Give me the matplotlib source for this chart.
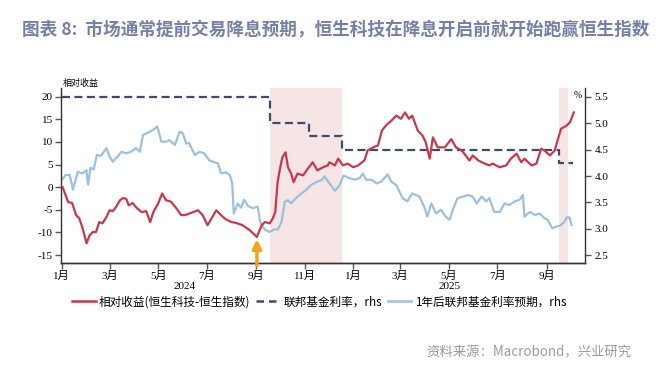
import numpy as np
import pandas as pd
import matplotlib
matplotlib.use('Agg')
import matplotlib.pyplot as plt
import matplotlib.dates as mdates
from matplotlib.lines import Line2D

plt.rcParams['font.family'] = ['Noto Sans CJK SC', 'DejaVu Sans']
plt.rcParams['axes.unicode_minus'] = False

# 相对收益 (恒生科技 - 恒生指数), lhs
rel_dates = ['2024-01-02', '2024-01-09', '2024-01-14', '2024-01-19', '2024-01-23', '2024-01-27',
             '2024-02-01', '2024-02-05', '2024-02-09', '2024-02-13', '2024-02-17', '2024-02-21',
             '2024-02-26', '2024-03-01', '2024-03-05', '2024-03-09', '2024-03-14', '2024-03-18',
             '2024-03-22', '2024-03-25', '2024-03-30', '2024-04-03', '2024-04-10', '2024-04-16',
             '2024-04-21', '2024-04-25', '2024-05-01', '2024-05-06', '2024-05-11', '2024-05-17',
             '2024-05-24', '2024-05-30', '2024-06-05', '2024-06-14', '2024-06-20', '2024-06-26',
             '2024-07-02', '2024-07-08', '2024-07-13', '2024-07-19', '2024-07-25', '2024-08-01',
             '2024-08-07', '2024-08-15', '2024-08-24', '2024-09-02', '2024-09-08', '2024-09-12',
             '2024-09-18', '2024-09-22', '2024-09-25', '2024-09-28', '2024-10-01', '2024-10-04',
             '2024-10-08', '2024-10-11', '2024-10-15', '2024-10-18', '2024-10-23', '2024-10-30',
             '2024-11-05', '2024-11-11', '2024-11-17', '2024-11-24', '2024-11-30', '2024-12-02',
             '2024-12-09', '2024-12-13', '2024-12-19', '2024-12-25', '2025-01-01', '2025-01-07',
             '2025-01-15', '2025-01-19', '2025-01-26', '2025-02-01', '2025-02-06', '2025-02-11',
             '2025-02-18', '2025-02-24', '2025-03-02', '2025-03-07', '2025-03-12', '2025-03-16',
             '2025-03-23', '2025-03-29', '2025-04-02', '2025-04-07', '2025-04-11', '2025-04-17',
             '2025-04-26', '2025-05-04', '2025-05-10', '2025-05-17', '2025-05-19', '2025-05-27',
             '2025-05-31', '2025-06-07', '2025-06-15', '2025-06-21', '2025-06-25', '2025-07-04',
             '2025-07-12', '2025-07-18', '2025-07-25', '2025-07-31', '2025-08-04', '2025-08-13',
             '2025-08-19', '2025-08-25', '2025-08-29', '2025-09-05', '2025-09-11', '2025-09-15',
             '2025-09-19', '2025-09-26', '2025-09-30', '2025-10-05']
rel_values = [0.0, -3.3, -3.5, -6.2, -6.9, -9.0,
              -12.4, -10.6, -9.9, -9.9, -7.7, -8.0,
              -6.6, -5.1, -5.3, -4.4, -2.9, -2.4,
              -2.6, -4.0, -3.5, -4.4, -5.5, -5.3,
              -7.7, -5.5, -3.6, -1.4, -2.9, -3.2,
              -4.7, -6.2, -6.1, -5.5, -5.1, -6.2,
              -8.4, -6.6, -5.1, -6.2, -7.1, -7.7,
              -7.9, -8.4, -9.5, -11.0, -8.4, -7.7,
              -8.0, -6.9, -5.5, 1.1, 4.1, 6.6,
              7.7, 4.4, 3.0, 1.1, 3.0, 2.6,
              4.1, 5.5, 3.7, 4.4, 4.8, 5.5,
              4.8, 6.3, 4.8, 5.2, 4.4, 4.8,
              5.9, 8.1, 8.8, 9.2, 12.5, 13.6,
              14.7, 15.8, 15.1, 16.5, 15.1, 15.8,
              12.5, 11.4, 9.9, 6.3, 11.0, 8.8,
              8.8, 10.6, 8.8, 8.1, 7.7, 5.9,
              7.0, 5.9, 5.2, 4.8, 5.2, 4.4,
              4.8, 6.3, 7.4, 5.5, 6.3, 4.8,
              5.2, 8.5, 8.1, 7.0, 8.1, 10.6,
              12.9, 13.6, 14.3, 16.5]

# 1年后联邦基金利率预期, rhs
exp_dates = ['2024-01-01', '2024-01-06', '2024-01-11', '2024-01-15', '2024-01-21', '2024-01-27',
             '2024-02-01', '2024-02-03', '2024-02-06', '2024-02-10', '2024-02-14', '2024-02-19',
             '2024-02-26', '2024-03-01', '2024-03-05', '2024-03-11', '2024-03-16', '2024-03-22',
             '2024-03-28', '2024-04-03', '2024-04-08', '2024-04-12', '2024-04-18', '2024-04-24',
             '2024-04-30', '2024-05-05', '2024-05-11', '2024-05-15', '2024-05-22', '2024-05-28',
             '2024-06-01', '2024-06-05', '2024-06-09', '2024-06-16', '2024-06-22', '2024-06-28',
             '2024-07-04', '2024-07-09', '2024-07-15', '2024-07-19', '2024-07-25', '2024-07-30',
             '2024-08-02', '2024-08-04', '2024-08-09', '2024-08-13', '2024-08-17', '2024-08-22',
             '2024-08-28', '2024-09-03', '2024-09-06', '2024-09-12', '2024-09-18', '2024-09-24',
             '2024-09-28', '2024-10-03', '2024-10-07', '2024-10-11', '2024-10-15', '2024-10-21',
             '2024-10-28', '2024-11-03', '2024-11-09', '2024-11-16', '2024-11-22', '2024-11-26',
             '2024-12-02', '2024-12-09', '2024-12-15', '2024-12-20', '2024-12-27', '2025-01-03',
             '2025-01-09', '2025-01-13', '2025-01-17', '2025-01-24', '2025-01-30', '2025-02-05',
             '2025-02-09', '2025-02-13', '2025-02-18', '2025-02-24', '2025-03-04', '2025-03-10',
             '2025-03-16', '2025-03-25', '2025-03-31', '2025-04-04', '2025-04-09', '2025-04-15',
             '2025-04-21', '2025-04-27', '2025-05-02', '2025-05-06', '2025-05-12', '2025-05-19',
             '2025-05-25', '2025-05-31', '2025-06-05', '2025-06-11', '2025-06-17', '2025-06-21',
             '2025-06-27', '2025-07-04', '2025-07-10', '2025-07-16', '2025-07-23', '2025-07-29',
             '2025-08-02', '2025-08-04', '2025-08-11', '2025-08-17', '2025-08-23', '2025-08-29',
             '2025-09-02', '2025-09-08', '2025-09-13', '2025-09-18', '2025-09-23', '2025-09-27',
             '2025-09-30', '2025-10-02']
exp_values = [3.93, 4.02, 4.02, 3.74, 4.08, 4.05,
              4.11, 3.84, 4.16, 4.12, 4.40, 4.38,
              4.53, 4.37, 4.27, 4.37, 4.46, 4.43,
              4.46, 4.53, 4.46, 4.78, 4.82, 4.87,
              4.94, 4.65, 4.65, 4.68, 4.59, 4.84,
              4.81, 4.62, 4.62, 4.40, 4.46, 4.43,
              4.30, 4.27, 4.24, 4.05, 4.07, 4.02,
              3.86, 3.29, 3.48, 3.40, 3.55, 3.43,
              3.39, 3.42, 3.13, 2.98, 2.94, 2.99,
              2.98, 3.13, 3.51, 3.54, 3.48, 3.58,
              3.67, 3.74, 3.83, 3.89, 3.92, 3.99,
              3.86, 3.72, 3.83, 4.01, 3.96, 3.93,
              3.96, 4.05, 3.93, 3.93, 3.86, 3.89,
              3.96, 4.03, 3.89, 3.83, 3.58, 3.52,
              3.67, 3.61, 3.42, 3.23, 3.48, 3.29,
              3.36, 3.23, 3.17, 3.36, 3.58, 3.61,
              3.64, 3.61, 3.48, 3.61, 3.52, 3.58,
              3.32, 3.32, 3.48, 3.45, 3.52, 3.55,
              3.64, 3.23, 3.32, 3.26, 3.29, 3.20,
              3.17, 3.01, 3.04, 3.06, 3.13, 3.23,
              3.20, 3.07]

# 联邦基金利率 (steps), rhs
fed_dates = ['2024-01-01', '2024-09-18', '2024-11-07', '2024-12-18', '2025-09-17', '2025-10-04']
fed_values = [5.5, 5.0, 4.75, 4.5, 4.25, 4.25]

# 降息区间
cut_periods = [('2024-09-18', '2024-12-18'), ('2025-09-17', '2025-09-28')]

RED = '#c8374b'
NAVY = '#3d4b68'
BLUE = '#9bc0e0'
SHADE = '#f5e6e5'
NUM_FONT = ['Liberation Serif', 'Noto Sans CJK SC']

fig = plt.figure(figsize=(6.72, 3.76), dpi=100)
ax = fig.add_axes([0.0908, 0.3005, 0.7797, 0.4655])
ax2 = ax.twinx()

rel_d = pd.to_datetime(rel_dates)
exp_d = pd.to_datetime(exp_dates)
fed_d = pd.to_datetime(fed_dates)

for s, e in cut_periods:
    ax2.axvspan(pd.Timestamp(s), pd.Timestamp(e), color=SHADE, lw=0, zorder=0)

ax2.plot(exp_d, exp_values, color=BLUE, lw=1.6, zorder=2)
ax2.plot(fed_d, fed_values, color=NAVY, lw=1.6, drawstyle='steps-post',
         dashes=(3.6, 2.0), zorder=3)
ax.plot(rel_d, rel_values, color=RED, lw=1.6, zorder=4)

ax.set_zorder(ax2.get_zorder() + 1)
ax.patch.set_visible(False)

ax.set_xlim(pd.Timestamp('2023-12-31'), pd.Timestamp('2025-10-19'))
ax.set_ylim(-16.75, 21.9)
ax2.set_ylim(2.35, 5.67)
ax.set_yticks(np.arange(-15, 21, 5))
ax2.set_yticks(np.arange(2.5, 5.6, 0.5))
ax2.set_yticklabels([f'{v:.1f}' for v in np.arange(2.5, 5.6, 0.5)])

ax.xaxis.set_major_locator(mdates.MonthLocator(bymonth=[1, 3, 5, 7, 9, 11]))
ax.xaxis.set_major_formatter(plt.FuncFormatter(
    lambda x, pos: f'{mdates.num2date(x).month}月'))

for a in (ax, ax2):
    a.spines['top'].set_visible(False)
    for sp in a.spines.values():
        sp.set_color('#333333')
        sp.set_linewidth(1.0)
    a.tick_params(length=4, width=1.0, color='#555555', labelsize=8, pad=2)
    for lab in a.get_xticklabels() + a.get_yticklabels():
        lab.set_family(NUM_FONT)
ax2.spines['left'].set_visible(False)
ax.spines['right'].set_visible(False)
ax2.tick_params(axis='y', pad=3)

# year labels
for yr, mid in [('2024', '2024-06-03'), ('2025', '2025-05-02')]:
    ax.text(pd.Timestamp(mid), -0.135, yr, transform=ax.get_xaxis_transform(),
            ha='center', va='center', fontsize=8, family=NUM_FONT)

ax.text(0.003, 1.0, '相对收益', transform=ax.transAxes, ha='left', va='bottom',
        fontsize=6.5)
ax2.text(0.995, 0.985, '%', transform=ax2.transAxes, ha='right', va='top',
         fontsize=7, family=NUM_FONT)

# arrow at the relative low
ax.annotate('', xy=(pd.Timestamp('2024-09-02'), -11.5),
            xytext=(pd.Timestamp('2024-09-02'), -17.4),
            arrowprops=dict(arrowstyle='-|>', color='#f5a31a', lw=2.5,
                            mutation_scale=13, shrinkA=0, shrinkB=0),
            annotation_clip=False)

# legend
handles = [Line2D([], [], color=RED, lw=1.8),
           Line2D([], [], color=NAVY, lw=1.8, dashes=(3.0, 2.0)),
           Line2D([], [], color=BLUE, lw=1.8)]
labels = ['相对收益(恒生科技-恒生指数)', '联邦基金利率，rhs', '1年后联邦基金利率预期，rhs']
fig.legend(handles, labels, loc='center', bbox_to_anchor=(0.475, 0.197), ncol=3,
           frameon=False, fontsize=8.4, handlelength=2.0, handletextpad=0.3,
           columnspacing=0.5)

fig.text(0.5, 0.92, '图表 8:  市场通常提前交易降息预期，恒生科技在降息开启前就开始跑赢恒生指数',
         ha='center', va='center', fontsize=12.7, color='#7480a6', fontweight='bold')
fig.text(0.94, 0.062, '资料来源：Macrobond，兴业研究', ha='right', va='center',
         fontsize=9.6, color='#9a9a9a')

fig.savefig('out.png', dpi=100)
